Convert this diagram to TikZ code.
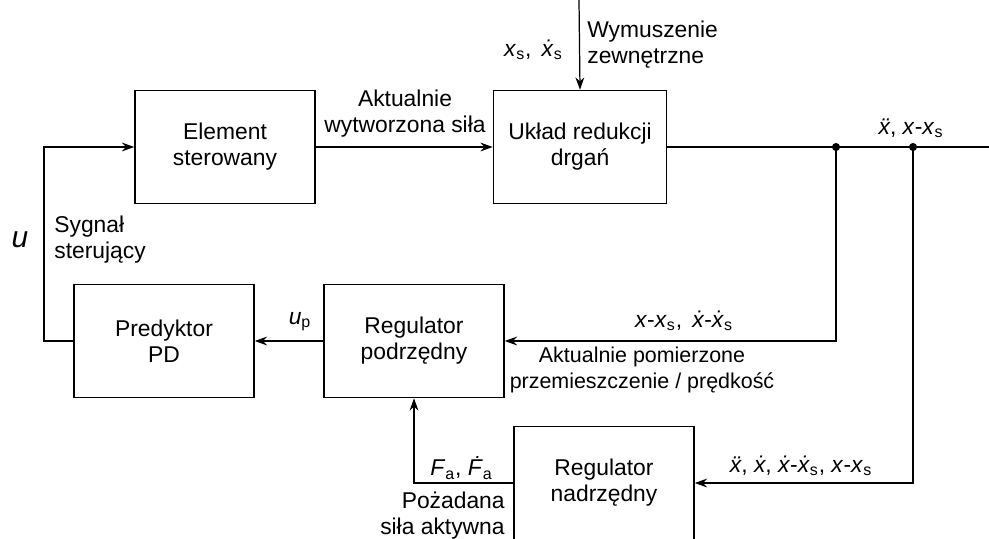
\documentclass[tikz,border=0pt]{standalone}
\usepackage{fontspec}
\setmainfont{Liberation Sans}
\usetikzlibrary{arrows.meta}

\newcommand{\xv}{\textit{x}}
\newcommand{\xdot}{\textit{ẋ}}
\newcommand{\xddot}{\textit{ẍ}}
\newcommand{\sbs}[1]{\textsubscript{#1}}

\begin{document}
\begin{tikzpicture}[x=0.02cm, y=-0.02cm,
    block/.style={draw, line width=0.9pt, minimum width=3.6cm, minimum height=2.26cm,
      align=center, font=\fontsize{13}{14.8}\selectfont},
    lbl/.style={font=\fontsize{13}{14.8}\selectfont, inner sep=0pt},
    sig/.style={line width=0.7pt, -{Stealth[length=7pt,width=5pt]}},
    wire/.style={line width=0.7pt}]
    \useasboundingbox (0,0) rectangle (989,538);

    % Blocks
    \node[block] (elem) at (225,147) {Element\\sterowany};
    \node[block, minimum width=3.46cm] (ukl) at (580,147) {Układ redukcji\\drgań};
    \node[block] (pred) at (164,341) {Predyktor\\PD};
    \node[block] (rpod) at (414,341) {Regulator\\podrzędny};
    \node[block] (rnad) at (604,483) {Regulator\\nadrzędny};

    % Helper points
    \coordinate (topin) at (579,0);
    \coordinate (out) at (989,147);
    \coordinate (tapA) at (836,147);
    \coordinate (tapB) at (913,147);
    \coordinate (uL) at (44,341);

    % Forward path
    \draw[sig] (topin) -- (ukl.north);
    \draw[sig] (elem) -- (ukl);
    \draw[wire] (ukl.east) -- (out);
    \fill (tapA) circle (2.3pt);
    \fill (tapB) circle (2.3pt);

    % Feedback paths
    \draw[sig] (tapA) |- (rpod.east);
    \draw[sig] (tapB) |- (rnad.east);
    \draw[sig] (rnad.west) -| (rpod.south);
    \draw[sig] (rpod) -- (pred);
    \draw[sig] (pred.west) -- (uL) |- (elem.west);

    % Labels
    \node[lbl, anchor=east] (xs) at (563,50) {\xv\sbs{s},\, \xdot\sbs{s}};
    \node[lbl, anchor=west, align=left] (wym) at (587,45) {Wymuszenie\\zewnętrzne};
    \node[lbl, align=center] (sila) at (405,114) {Aktualnie\\wytworzona siła};
    \node[lbl] (yout) at (911,128) {\xddot, \xv-\xv\sbs{s}};
    \node[lbl] (ypod) at (684,321) {\xv-\xv\sbs{s},\, \xdot-\xdot\sbs{s}};
    \node[lbl, align=center, font=\fontsize{12.2}{14.8}\selectfont] (pom) at (642,370)
      {Aktualnie pomierzone\\przemieszczenie / prędkość};
    \node[lbl] (ynad) at (801,466) {\xddot, \xdot, \xdot-\xdot\sbs{s}, \xv-\xv\sbs{s}};
    \node[lbl, anchor=east] (fa) at (493,468) {\textit{F}\sbs{a}, \textit{Ḟ}\sbs{a}};
    \node[lbl, anchor=east, align=right] (poz) at (505,516) {Pożadana\\siła aktywna};
    \node[lbl] (up) at (300,322) {\textit{u}\sbs{p}};
    \node[lbl, font=\fontsize{17}{20}\selectfont] (u) at (20,240) {\textit{u}};
    \node[lbl, anchor=west, align=left] (syg) at (54,240) {Sygnał\\sterujący};
\end{tikzpicture}
\end{document}
